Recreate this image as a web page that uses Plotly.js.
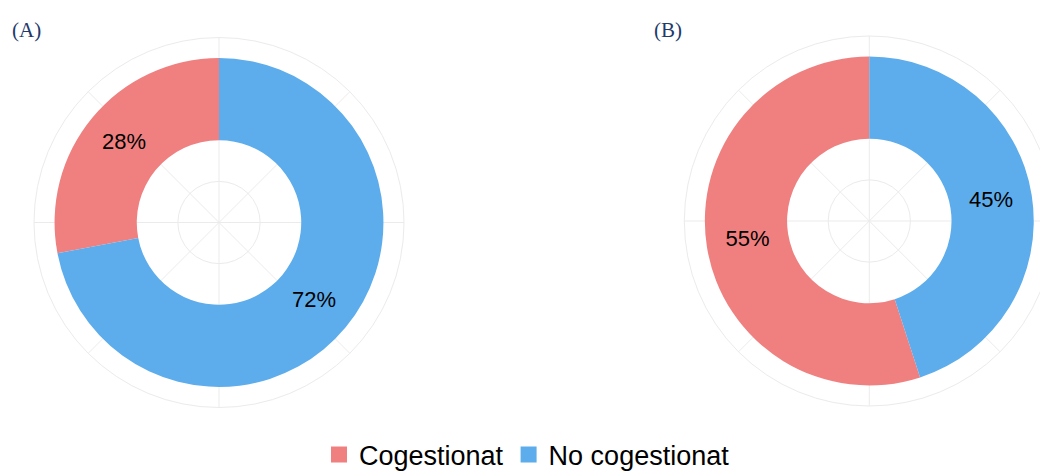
<!DOCTYPE html>
<html>
<head>
<meta charset="utf-8">
<script src="https://cdn.plot.ly/plotly-3.0.1.min.js"></script>
<style>
  html, body { margin: 0; padding: 0; overflow: hidden; background: #ffffff; }
  #chart { width: 1100px; height: 490px; }
</style>
</head>
<body>
<div id="chart"></div>
<script>
// ---- data ----
const categories = ['Cogestionat', 'No cogestionat'];
const panelA = [28, 72];
const panelB = [55, 45];
const panelTitles = ['(A)', '(B)'];

// ---- styles ----
const colors = ['#F08080', '#5DADEC'];
const W = 1100, H = 490;
const panels = [panelA, panelB];
const subplots = ['polar', 'polar2'];

const traces = [];
panels.forEach((vals, p) => {
  const total = vals.reduce((a, b) => a + b, 0);
  let cum = 0;
  const labTheta = [], labText = [];
  vals.forEach((v, i) => {
    const mid = (cum + v / 2) / total * 360;
    const wid = v / total * 360;
    traces.push({
      type: 'barpolar',
      subplot: subplots[p],
      name: categories[i],
      legendgroup: categories[i],
      showlegend: false,
      r: [1], base: [1.5],
      theta: [mid], width: [wid],
      marker: { color: colors[i], line: { width: 0 } },
      hoverinfo: 'skip'
    });
    labTheta.push(mid);
    labText.push(v + '%');
    cum += v;
  });
  traces.push({
    type: 'scatterpolar',
    subplot: subplots[p],
    mode: 'text',
    r: labTheta.map(() => 2),
    theta: labTheta,
    text: labText,
    textfont: { family: 'Liberation Sans, Arial, sans-serif', size: 22, color: '#000000' },
    showlegend: false,
    hoverinfo: 'skip'
  });
});

// legend entries (square keys); null point so nothing is drawn in the plot
categories.forEach((c, i) => {
  traces.push({
    type: 'scatterpolar',
    subplot: 'polar',
    mode: 'markers',
    name: c,
    legendgroup: c,
    showlegend: true,
    r: [null], theta: [null],
    marker: { symbol: 'square', size: 17, color: colors[i], line: { width: 0 } },
    hoverinfo: 'skip'
  });
});

function polarLayout(cx, cy, R) {
  return {
    domain: {
      x: [(cx - R) / W, (cx + R) / W],
      y: [1 - (cy + R) / H, 1 - (cy - R) / H]
    },
    bgcolor: '#ffffff',
    hole: 0,
    radialaxis: {
      range: [0.5, 2.75], tickvals: [1, 2], showticklabels: false, ticks: '',
      showline: false, gridcolor: '#EBEBEB', gridwidth: 1, layer: 'below traces'
    },
    angularaxis: {
      direction: 'counterclockwise', rotation: 90,
      tickvals: [0, 45, 90, 135, 180, 225, 270, 315], showticklabels: false, ticks: '',
      gridcolor: '#EBEBEB', gridwidth: 1, showline: true, linecolor: '#EBEBEB', linewidth: 1,
      layer: 'below traces'
    }
  };
}

const layout = {
  width: W, height: H,
  margin: { l: 0, r: 0, t: 0, b: 0 },
  paper_bgcolor: '#ffffff',
  showlegend: true,
  polar: polarLayout(219, 222.5, 185),
  polar2: polarLayout(869.3, 221, 185),
  legend: {
    orientation: 'h', x: 527 / W, xanchor: 'center', y: (H - 455) / H, yanchor: 'middle',
    font: { family: 'Liberation Sans, Arial, sans-serif', size: 27, color: '#000000' },
    bgcolor: 'rgba(0,0,0,0)', traceorder: 'normal', itemsizing: 'trace'
  },
  annotations: [
    { text: panelTitles[0], xref: 'paper', yref: 'paper', x: 26 / W, y: 1 - 30 / H,
      xanchor: 'center', yanchor: 'middle', showarrow: false,
      font: { family: 'Liberation Serif, DejaVu Serif, serif', size: 21, color: '#1F3A6B' } },
    { text: panelTitles[1], xref: 'paper', yref: 'paper', x: 667.5 / W, y: 1 - 30 / H,
      xanchor: 'center', yanchor: 'middle', showarrow: false,
      font: { family: 'Liberation Serif, DejaVu Serif, serif', size: 21, color: '#1F3A6B' } }
  ]
};

Plotly.newPlot('chart', traces, layout, { displayModeBar: false, staticPlot: true });
</script>
</body>
</html>
